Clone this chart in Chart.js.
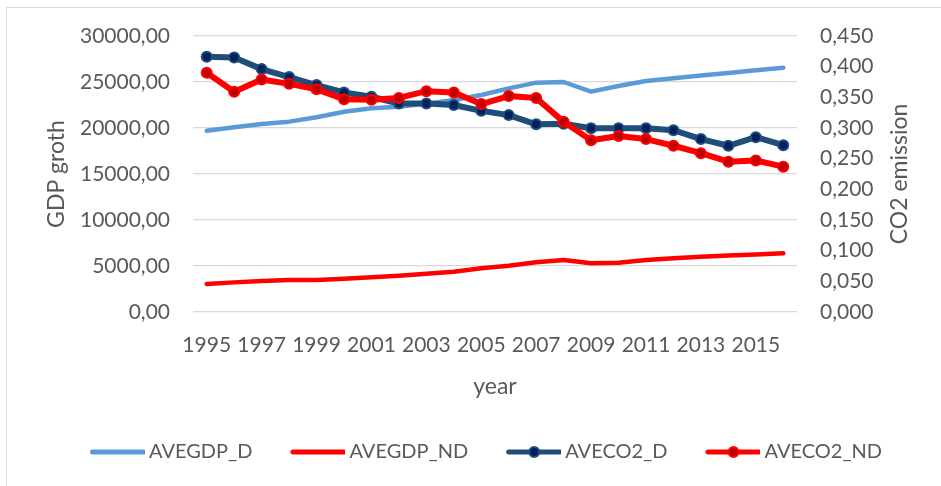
<!DOCTYPE html>
<html>
<head>
<meta charset="utf-8">
<script src="https://cdn.jsdelivr.net/npm/chart.js@4.4.1/dist/chart.umd.min.js"></script>
<style>
    body { margin: 0; background: #fff; overflow: hidden; }
    #frame { position: absolute; left: 6px; top: 7px; width: 1000px; height: 600px; border: 1px solid #d9d9d9; }
    #wrap { position: absolute; left: 0; top: 0; width: 941px; height: 486px; }
</style>
</head>
<body>
<div id="frame"></div>
<div id="wrap"><canvas id="chart"></canvas></div>
<script>
const years = ["1995", "1996", "1997", "1998", "1999", "2000", "2001", "2002", "2003", "2004", "2005",
    "2006", "2007", "2008", "2009", "2010", "2011", "2012", "2013", "2014", "2015", "2016"];

const aveGdpD = [19700, 20070, 20430, 20690, 21160, 21770, 22140, 22320, 22650, 23040, 23590,
    24310, 24930, 25000, 23950, 24560, 25100, 25400, 25700, 25990, 26280, 26560];
const aveGdpND = [3040, 3220, 3370, 3480, 3480, 3620, 3770, 3950, 4150, 4380, 4750,
    5030, 5400, 5650, 5290, 5360, 5650, 5840, 6000, 6130, 6250, 6380];
const aveCo2D = [0.416, 0.415, 0.396, 0.383, 0.370, 0.358, 0.351, 0.340, 0.340, 0.3375, 0.328,
    0.321, 0.306, 0.307, 0.2995, 0.2995, 0.2995, 0.2965, 0.282, 0.271, 0.285, 0.272];
const aveCo2ND = [0.390, 0.359, 0.379, 0.372, 0.363, 0.347, 0.346, 0.349, 0.360, 0.358, 0.339,
    0.352, 0.349, 0.310, 0.280, 0.287, 0.282, 0.271, 0.259, 0.245, 0.247, 0.237];

const textColor = "#595959";
const font = { family: "Lato", size: 21 };
const titleFont = { family: "Lato", size: 23 };

// small line (+ dot) pictures for the legend
function legendIcon(lineColor, dotFill, dotBorder) {
    const c = document.createElement("canvas");
    c.width = 62;
    c.height = 16;
    const g = c.getContext("2d");
    g.strokeStyle = lineColor;
    g.lineWidth = 5;
    g.lineCap = "round";
    g.beginPath();
    g.moveTo(9.5, 8);
    g.lineTo(60.5, 8);
    g.stroke();
    if (dotFill) {
        g.beginPath();
        g.arc(35, 8, 5, 0, Math.PI * 2);
        g.fillStyle = dotFill;
        g.fill();
        g.lineWidth = 2;
        g.strokeStyle = dotBorder;
        g.stroke();
    }
    return c;
}

const icons = [
    legendIcon("#5b9bd5"),
    legendIcon("#ff0000"),
    legendIcon("#1f4e79", "#002060", "#1f4e79"),
    legendIcon("#ff0000", "#c00000", "#ff0000")
];

// right axis title reads bottom-to-top, as on the left
const rightTitle = {
    id: "rightTitle",
    afterDraw(chart) {
        const s = chart.scales.y1;
        const a = chart.chartArea;
        const ctx = chart.ctx;
        ctx.save();
        ctx.translate(s.right - 41, (a.top + a.bottom) / 2);
        ctx.rotate(-Math.PI / 2);
        ctx.font = "23px Lato";
        ctx.fillStyle = textColor;
        ctx.textAlign = "center";
        ctx.textBaseline = "middle";
        ctx.fillText("CO2 emission", 0, 0);
        ctx.restore();
    }
};

new Chart(document.getElementById("chart"), {
    type: "line",
    data: {
        labels: years,
        datasets: [
            {
                label: "AVEGDP_D",
                data: aveGdpD,
                yAxisID: "y",
                borderColor: "#5b9bd5",
                borderWidth: 4.5,
                pointRadius: 0,
                order: 4
            },
            {
                label: "AVEGDP_ND",
                data: aveGdpND,
                yAxisID: "y",
                borderColor: "#ff0000",
                borderWidth: 4.5,
                pointRadius: 0,
                order: 3
            },
            {
                label: "AVECO2_D",
                data: aveCo2D,
                yAxisID: "y1",
                borderColor: "#1f4e79",
                borderWidth: 6,
                pointRadius: 5,
                pointBorderWidth: 2,
                pointBackgroundColor: "#002060",
                pointBorderColor: "#1f4e79",
                order: 2
            },
            {
                label: "AVECO2_ND",
                data: aveCo2ND,
                yAxisID: "y1",
                borderColor: "#ff0000",
                borderWidth: 6,
                pointRadius: 5,
                pointBorderWidth: 2,
                pointBackgroundColor: "#c00000",
                pointBorderColor: "#ff0000",
                order: 1
            }
        ]
    },
    options: {
        responsive: true,
        maintainAspectRatio: false,
        animation: false,
        elements: {
            line: { tension: 0, borderJoinStyle: "round", borderCapStyle: "round" }
        },
        layout: { padding: { left: 30, right: 0, top: 36, bottom: 14 } },
        plugins: {
            tooltip: { enabled: false },
            legend: {
                position: "bottom",
                align: "center",
                labels: {
                    usePointStyle: true,
                    pointStyleWidth: 50,
                    padding: 37,
                    color: textColor,
                    font: { family: "Lato", size: 20 },
                    generateLabels(chart) {
                        return chart.data.datasets.map((ds, i) => ({
                            text: ds.label,
                            datasetIndex: i,
                            pointStyle: icons[i],
                            fontColor: textColor,
                            hidden: false,
                            lineWidth: 0
                        }));
                    }
                }
            }
        },
        scales: {
            x: {
                offset: true,
                grid: { display: false },
                border: { display: false },
                ticks: {
                    autoSkip: false,
                    maxRotation: 0,
                    padding: 13,
                    color: textColor,
                    font: font,
                    callback: (v, i) => (i % 2 === 0 ? years[i] : "")
                },
                title: {
                    display: true,
                    text: "year",
                    color: textColor,
                    font: titleFont,
                    padding: { top: 0, bottom: 5 }
                },
                afterFit: s => { s.height = 93; }
            },
            y: {
                position: "left",
                min: 0,
                max: 30000,
                grid: { color: "#d9d9d9", lineWidth: 1.3, drawTicks: false },
                border: { display: false },
                ticks: {
                    stepSize: 5000,
                    padding: 23,
                    color: textColor,
                    font: font,
                    callback: v => v.toFixed(2).replace(".", ",")
                },
                title: {
                    display: true,
                    text: "GDP groth",
                    color: textColor,
                    font: titleFont,
                    padding: { top: 13, bottom: 0 }
                },
                afterFit: s => { s.width = 163; }
            },
            y1: {
                position: "right",
                min: 0,
                max: 0.45,
                grid: { display: false, drawTicks: false },
                border: { display: false },
                ticks: {
                    stepSize: 0.05,
                    padding: 23,
                    color: textColor,
                    font: font,
                    callback: v => v.toFixed(3).replace(".", ",")
                },
                afterFit: s => { s.width = 144; }
            }
        }
    },
    plugins: [rightTitle]
});
</script>
</body>
</html>
